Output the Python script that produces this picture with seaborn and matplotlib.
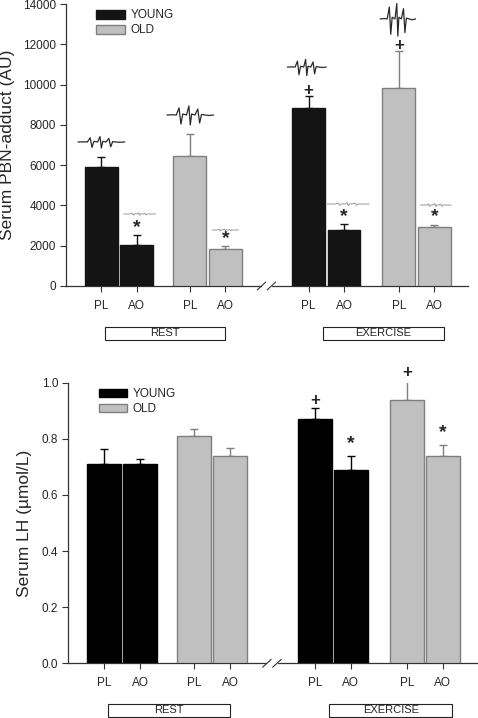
import numpy as np
import pandas as pd
import matplotlib
matplotlib.use("Agg")
import matplotlib.pyplot as plt
import matplotlib.transforms as mtransforms
from matplotlib.patches import Rectangle, Patch
import seaborn as sns

# -------------------------------
# Data
# -------------------------------
groups = ["YOUNG", "YOUNG", "OLD", "OLD", "YOUNG", "YOUNG", "OLD", "OLD"]
treatments = ["PL", "AO", "PL", "AO", "PL", "AO", "PL", "AO"]
conditions = ["REST", "REST", "REST", "REST", "EXERCISE", "EXERCISE", "EXERCISE", "EXERCISE"]
positions = [1, 2, 3.5, 4.5, 6.85, 7.85, 9.4, 10.4]

pbn_mean = [5900, 2040, 6460, 1840, 8850, 2770, 9810, 2910]
pbn_upper = [6380, 2530, 7560, 2000, 9450, 3060, 11650, 3010]

lh_mean = [0.71, 0.71, 0.81, 0.74, 0.87, 0.69, 0.94, 0.74]
lh_upper = [0.765, 0.727, 0.834, 0.768, 0.909, 0.74, 1.01, 0.779]

# significance marks (bar index, symbol, y)
pbn_marks = [(1, "*", 2880), (3, "*", 2330), (5, "*", 3430), (7, "*", 3430),
             (4, "+", 9720), (6, "+", 11920)]
lh_marks = [(4, "+", 0.938), (6, "+", 1.035), (5, "*", 0.784), (7, "*", 0.823)]

# ESR spectra drawn above the PBN bars: centre x, centre y, width, amplitude
esr_x = [1.0, 3.51, 2.08, 4.5, 6.8, 9.37, 7.97, 10.44]
esr_y = [7150, 8490, 3575, 2780, 10870, 13260, 4070, 4020]
esr_w = [1.32, 1.32, 0.9, 0.75, 1.1, 1.0, 1.18, 0.87]
esr_amp = [300, 500, 60, 50, 420, 850, 80, 80]
esr_strong = [True, True, False, False, True, True, False, False]

# hand-traced spectrum outline (relative x, relative y)
esr_shape_x = [0.0, 0.12, 0.2, 0.26, 0.3, 0.34, 0.42, 0.47, 0.5, 0.53,
               0.6, 0.66, 0.7, 0.74, 0.82, 0.9, 1.0]
esr_shape_y = [0.0, 0.02, 0.0, 0.7, -0.9, 0.1, 0.0, 0.9, -1.0, 0.1,
               0.0, 0.6, -0.8, 0.05, 0.0, -0.05, 0.0]

young_color = "#141414"
old_color = "#c0c0c0"

df = pd.DataFrame({"pos": positions, "group": groups, "treat": treatments,
                   "cond": conditions, "pbn": pbn_mean, "lh": lh_mean})

sns.set_style("ticks")
plt.rcParams["font.family"] = ["Liberation Sans", "DejaVu Sans"]

fig = plt.figure(figsize=(4.78, 7.18), dpi=100)
ax1 = fig.add_axes([0.138, 0.6017, 0.841, 0.3927])
ax2 = fig.add_axes([0.142, 0.0762, 0.856, 0.3908])


def draw_panel(ax, col, upper, ylim, yticks, ylabel, label_x, bar_dark):
    pal = {"YOUNG": bar_dark, "OLD": old_color}
    sns.barplot(data=df, x="pos", y=col, hue="group", hue_order=["YOUNG", "OLD"],
                palette=pal, native_scale=True, dodge=False, width=0.93,
                errorbar=None, legend=False, ax=ax, zorder=3)
    for cont, ec in zip(ax.containers, [bar_dark, "#7f7f7f"]):
        for p in cont:
            p.set_edgecolor(ec)
            p.set_linewidth(1.0)

    means = np.array(df[col])
    ups = np.array(upper)
    pos = np.array(positions)
    for g, ec in [("YOUNG", bar_dark), ("OLD", "#7f7f7f")]:
        m = np.array([gg == g for gg in groups])
        ax.errorbar(pos[m], means[m], yerr=[np.zeros(m.sum()), ups[m] - means[m]],
                    fmt="none", ecolor=ec, elinewidth=1.0, capsize=3, capthick=1.0,
                    zorder=2)

    ax.set_xlim(0, 11.35)
    ax.set_ylim(*ylim)
    ax.set_yticks(yticks)
    ax.set_xticks(positions)
    ax.set_xticklabels(treatments)
    ax.set_xlabel("")
    ax.set_ylabel(ylabel, fontsize=12.5)
    ax.yaxis.set_label_coords(label_x, 0.5)
    ax.tick_params(axis="both", labelsize=8.5, length=4, width=0.8, color="#333333",
                   pad=3)
    ax.tick_params(axis="x", pad=6)
    sns.despine(ax=ax)
    for s in ["left", "bottom"]:
        ax.spines[s].set_linewidth(0.9)
        ax.spines[s].set_color("#333333")

    # axis break
    tr = mtransforms.blended_transform_factory(ax.transData, ax.transAxes)
    ax.plot([5.56, 5.76], [0, 0], color="white", lw=2.5, transform=tr,
            clip_on=False, zorder=5)
    for bx in [5.52, 5.8]:
        ax.plot([bx - 0.12, bx + 0.12], [-0.014, 0.014], color="#333333", lw=0.8,
                transform=tr, clip_on=False, zorder=6)

    # condition boxes
    for (x0, x1), name in [((1.1, 4.5), "REST"), ((7.25, 10.66), "EXERCISE")]:
        ax.add_patch(Rectangle((x0, -0.19), x1 - x0, 0.046, transform=tr,
                               facecolor="white", edgecolor="#222222", lw=0.8,
                               clip_on=False))
        ax.text((x0 + x1) / 2, -0.167, name, transform=tr, ha="center",
                va="center", fontsize=8)

    handles = [Patch(facecolor=bar_dark, edgecolor=bar_dark),
               Patch(facecolor=old_color, edgecolor="#7f7f7f")]
    ax.legend(handles, ["YOUNG", "OLD"], loc="upper left",
              bbox_to_anchor=(0.055, 1.01), frameon=False, fontsize=8.5,
              handlelength=2.4, handleheight=0.75, handletextpad=0.5,
              labelspacing=0.25, borderpad=0.2)


draw_panel(ax1, "pbn", pbn_upper, (0, 14000), np.arange(0, 14001, 2000),
           "Serum PBN-adduct (AU)", -0.127, young_color)
draw_panel(ax2, "lh", lh_upper, (0, 1.0), np.arange(0, 1.01, 0.2),
           "Serum LH (µmol/L)", -0.088, "black")
ax2.set_yticklabels([f"{v:.1f}" for v in np.arange(0, 1.01, 0.2)])

for i, sym, y in pbn_marks:
    ax1.text(positions[i], y, sym, ha="center", va="center",
             fontsize=14 if sym == "*" else 12, fontweight="bold", zorder=6)
for i, sym, y in lh_marks:
    ax2.text(positions[i], y, sym, ha="center", va="center",
             fontsize=14 if sym == "*" else 12, fontweight="bold", zorder=6,
             clip_on=False)

# ESR spectra sketches
sx = np.array(esr_shape_x)
sy = np.array(esr_shape_y)
for cx, cy, w, a, strong in zip(esr_x, esr_y, esr_w, esr_amp, esr_strong):
    ax1.plot(cx - w / 2 + sx * w, cy + sy * a,
             color="#2a2a2a" if strong else "#9a9a9a",
             lw=0.9 if strong else 0.7, zorder=6, clip_on=False)

fig.savefig("out.png", dpi=100)
